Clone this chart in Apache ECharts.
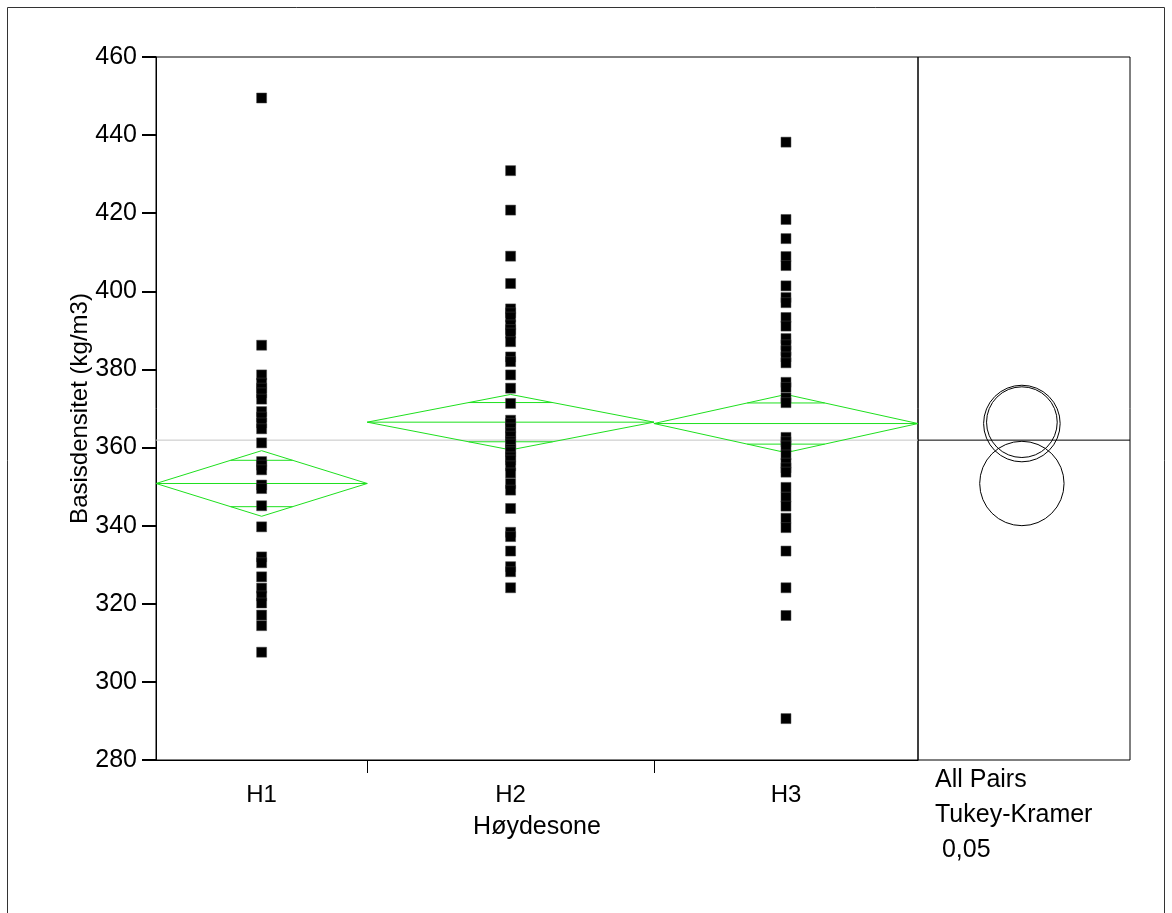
<!DOCTYPE html>
<html>
<head>
<meta charset="utf-8">
<style>
  html, body { margin: 0; padding: 0; background: #fff; }
  #chart { width: 1172px; height: 913px; }
</style>
<script src="https://cdn.jsdelivr.net/npm/echarts@6/dist/echarts.min.js"></script>
</head>
<body>
<div id="chart"></div>
<script>
// Basic density (kg/m3) by altitude zone
const groups = ['H1', 'H2', 'H3'];

const valuesH1 = [449.5, 386.2, 378.6, 376.5, 375.2, 374.0, 372.4, 369.2, 367.8, 366.3,
  364.8, 361.2, 356.4, 355.5, 354.3, 350.4, 349.5, 345.1, 339.7, 332.0,
  330.5, 326.9, 324.0, 322.0, 320.2, 317.1, 314.4, 307.6];

const valuesH2 = [430.9, 420.8, 409.0, 402.0, 395.5, 394.5, 393.4, 391.4, 390.2, 389.3,
  387.1, 383.2, 382.0, 378.6, 375.2, 371.3, 367.0, 366.2, 365.0, 363.8,
  362.9, 361.5, 360.9, 359.5, 358.9, 357.6, 356.8, 355.3, 353.5, 350.8,
  349.1, 344.4, 338.3, 337.2, 333.5, 329.5, 328.2, 324.1];

const valuesH3 = [438.2, 418.4, 413.5, 408.9, 406.6, 401.4, 398.4, 397.1, 393.3, 391.1,
  387.9, 386.3, 384.8, 383.2, 381.7, 376.7, 375.4, 372.7, 371.5, 362.6,
  361.5, 360.4, 358.1, 356.0, 354.8, 353.7, 349.8, 347.3, 345.0, 341.9,
  339.5, 333.5, 324.1, 317.0, 290.6];

// Group means and 95% confidence half-widths (means diamonds)
const groupMeans = [350.8, 366.5, 366.15];
const ciHalfWidths = [8.4, 7.1, 7.45];
const grandMean = 361.9;

// Tukey-Kramer comparison circle radii (kg/m3)
const circleRadii = [10.8, 9.05, 9.8];

const yMin = 280, yMax = 460, yStep = 20;

// ---- derived layout from group sizes ----
const groupValues = [valuesH1, valuesH2, valuesH3];
const sizes = groupValues.map(v => v.length);
const starts = [];
let acc = 0;
sizes.forEach(n => { starts.push(acc); acc += n; });
const total = acc;
const ends = starts.map((s, i) => s + sizes[i]);
const centers = starts.map((s, i) => s + sizes[i] / 2);
const boundaries = ends.slice(0, -1);

const pointData = [];
groupValues.forEach((vals, gi) => vals.forEach(v => pointData.push([centers[gi], v])));

const diamondData = groups.map((g, i) => [starts[i], ends[i], groupMeans[i], ciHalfWidths[i]]);
const circleData = groups.map((g, i) => [0.49, groupMeans[i], circleRadii[i]]);

const FONT = '"Liberation Sans", Arial, sans-serif';
const GREEN = '#1ee01e';

const chart = echarts.init(document.getElementById('chart'));

chart.setOption({
  animation: false,
  backgroundColor: '#fff',
  grid: [
    { left: 156, top: 57, width: 762, bottom: 153, show: true, borderColor: '#000', borderWidth: 1, backgroundColor: 'transparent' },
    { left: 918, top: 57, right: 42, bottom: 153, show: true, borderColor: '#000', borderWidth: 1, backgroundColor: 'transparent' }
  ],
  xAxis: [
    {
      type: 'value', gridIndex: 0, min: 0, max: total,
      splitLine: { show: false },
      axisLine: { show: true, lineStyle: { color: '#000', width: 1 } },
      axisTick: { show: true, customValues: boundaries, length: 13, lineStyle: { color: '#000', width: 1 } },
      axisLabel: {
        customValues: centers, margin: 23, color: '#000', fontFamily: FONT, fontSize: 24,
        formatter: v => { const i = centers.findIndex(c => Math.abs(c - v) < 1e-6); return i >= 0 ? groups[i] : ''; }
      },
      name: 'Høydesone', nameLocation: 'middle', nameGap: 55, nameMoveOverlap: false,
      nameTextStyle: { color: '#000', fontFamily: FONT, fontSize: 25 }
    },
    { type: 'value', gridIndex: 1, min: 0, max: 1, show: false }
  ],
  yAxis: [
    {
      type: 'value', gridIndex: 0, min: yMin, max: yMax, interval: yStep,
      splitLine: { show: false },
      axisLine: { show: true, lineStyle: { color: '#000', width: 1 } },
      axisTick: { show: true, length: 14, lineStyle: { color: '#000', width: 2 } },
      axisLabel: { color: '#000', fontFamily: FONT, fontSize: 25, margin: 19 },
      name: 'Basisdensitet (kg/m3)', nameLocation: 'middle', nameGap: 64, nameRotate: 90, nameMoveOverlap: false,
      nameTextStyle: { color: '#000', fontFamily: FONT, fontSize: 24 }
    },
    { type: 'value', gridIndex: 1, min: yMin, max: yMax, show: false }
  ],
  series: [
    {
      type: 'line', xAxisIndex: 0, yAxisIndex: 0, z: 1,
      data: [[0, grandMean], [total, grandMean]], symbol: 'none',
      lineStyle: { color: '#c4c4c4', width: 1 }, silent: true
    },
    {
      type: 'line', xAxisIndex: 1, yAxisIndex: 1, z: 1,
      data: [[0, grandMean], [1, grandMean]], symbol: 'none',
      lineStyle: { color: '#000', width: 1 }, silent: true
    },
    {
      type: 'custom', xAxisIndex: 0, yAxisIndex: 0, z: 3,
      data: diamondData,
      renderItem: (params, api) => {
        const x0 = api.value(0), x1 = api.value(1), m = api.value(2), h = api.value(3);
        const xm = (x0 + x1) / 2;
        const L = api.coord([x0, m]), R = api.coord([x1, m]);
        const T = api.coord([xm, m + h]), B = api.coord([xm, m - h]);
        const o = h / Math.SQRT2;
        const f = 1 - o / h;
        const ox0 = xm - (xm - x0) * f, ox1 = xm + (x1 - xm) * f;
        const u0 = api.coord([ox0, m + o]), u1 = api.coord([ox1, m + o]);
        const d0 = api.coord([ox0, m - o]), d1 = api.coord([ox1, m - o]);
        const st = { stroke: GREEN, lineWidth: 1, fill: null };
        return {
          type: 'group',
          children: [
            { type: 'polygon', shape: { points: [L, T, R, B] }, style: st },
            { type: 'line', shape: { x1: L[0], y1: L[1], x2: R[0], y2: R[1] }, style: st },
            { type: 'line', shape: { x1: u0[0], y1: u0[1], x2: u1[0], y2: u1[1] }, style: st },
            { type: 'line', shape: { x1: d0[0], y1: d0[1], x2: d1[0], y2: d1[1] }, style: st }
          ]
        };
      }
    },
    {
      type: 'scatter', xAxisIndex: 0, yAxisIndex: 0, z: 4,
      data: pointData, symbol: 'rect', symbolSize: 10,
      itemStyle: { color: '#000', opacity: 1, borderColor: '#444', borderWidth: 0.5 }
    },
    {
      type: 'custom', xAxisIndex: 1, yAxisIndex: 1, z: 3,
      data: circleData,
      renderItem: (params, api) => {
        const c = api.coord([api.value(0), api.value(1)]);
        const r = api.size([0, api.value(2)])[1];
        return { type: 'circle', shape: { cx: c[0], cy: c[1], r: r }, style: { stroke: '#000', lineWidth: 1, fill: null } };
      }
    }
  ],
  graphic: [
    { type: 'rect', shape: { x: 7.5, y: 7.5, width: 1157, height: 1000 }, style: { stroke: '#333', lineWidth: 1, fill: null }, silent: true },
    {
      type: 'text', left: 935, top: 763,
      style: { text: 'All Pairs\nTukey-Kramer\n 0,05', font: '25px ' + FONT, lineHeight: 35, fill: '#000' }
    }
  ]
});
</script>
</body>
</html>
